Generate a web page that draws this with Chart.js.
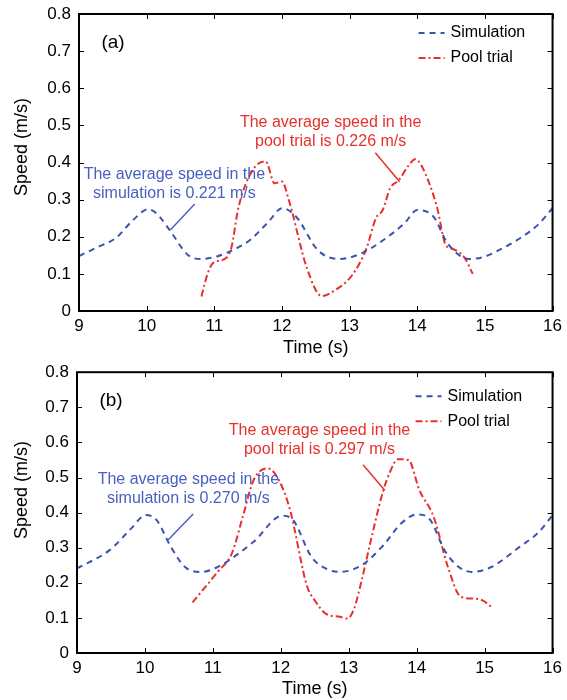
<!DOCTYPE html>
<html lang="en">
<head>
<meta charset="UTF-8">
<title>Swimming speed: simulation vs pool trial</title>
<script src="https://cdn.jsdelivr.net/npm/chart.js"></script>
<style>
  body { margin: 0; background: #fff; }
  canvas { display: block; }
</style>
</head>
<body>
<canvas id="chartA" width="567" height="362"></canvas>
<canvas id="chartB" width="567" height="338"></canvas>
<script>
// ---- panel (a) ----
const simTimeA = [9, 9.25, 9.54, 9.8, 10.02, 10.15, 10.34, 10.61, 10.8, 11.04, 11.25, 11.52, 11.8, 12.0, 12.21, 12.53, 12.85, 13.17, 13.49, 13.81, 14.0, 14.24, 14.45, 14.77, 14.99, 15.25, 15.52, 15.8, 16];
const simSpeedA = [0.148, 0.17, 0.196, 0.245, 0.274, 0.262, 0.218, 0.151, 0.140, 0.147, 0.162, 0.19, 0.24, 0.277, 0.254, 0.164, 0.14, 0.155, 0.19, 0.236, 0.272, 0.254, 0.182, 0.14, 0.146, 0.168, 0.196, 0.235, 0.277];
const poolTimeA = [10.81, 10.9, 10.98, 11.17, 11.25, 11.36, 11.57, 11.76, 11.89, 12.0, 12.1, 12.37, 12.59, 12.75, 13.04, 13.25, 13.39, 13.49, 13.6, 13.73, 13.86, 13.97, 14.07, 14.29, 14.42, 14.5, 14.69, 14.82];
const poolSpeedA = [0.039, 0.10, 0.129, 0.142, 0.169, 0.281, 0.38, 0.403, 0.344, 0.349, 0.30, 0.115, 0.04, 0.052, 0.097, 0.169, 0.25, 0.272, 0.331, 0.353, 0.389, 0.409, 0.389, 0.281, 0.178, 0.169, 0.146, 0.10];

// ---- panel (b) ----
const simTimeB = [9, 9.48, 9.8, 10.01, 10.17, 10.38, 10.59, 10.83, 11.07, 11.6, 12.02, 12.18, 12.45, 12.66, 12.87, 13.19, 13.51, 13.77, 14.01, 14.2, 14.41, 14.62, 14.81, 15.1, 15.52, 15.8, 16];
const simSpeedB = [0.241, 0.293, 0.355, 0.393, 0.379, 0.303, 0.245, 0.231, 0.245, 0.317, 0.391, 0.379, 0.274, 0.241, 0.231, 0.25, 0.307, 0.369, 0.395, 0.379, 0.293, 0.245, 0.231, 0.245, 0.303, 0.345, 0.393];
const poolTimeB = [10.70, 11.07, 11.28, 11.44, 11.6, 11.81, 11.97, 12.13, 12.39, 12.5, 12.66, 12.87, 12.98, 13.08, 13.19, 13.35, 13.51, 13.61, 13.72, 13.88, 14.04, 14.25, 14.46, 14.65, 14.83, 14.97, 15.1];
const poolSpeedB = [0.144, 0.231, 0.284, 0.388, 0.493, 0.526, 0.493, 0.412, 0.188, 0.15, 0.112, 0.103, 0.098, 0.127, 0.207, 0.341, 0.464, 0.517, 0.552, 0.55, 0.464, 0.388, 0.245, 0.16, 0.155, 0.15, 0.131];

const seriesNames = ['Simulation', 'Pool trial'];
const FONT = 'Liberation Sans, Arial, sans-serif';
const BLUE = '#3b53ad';
const RED = '#e8302a';

function points(xs, ys) {
    return xs.map((t, i) => ({ x: t, y: ys[i] }));
}

// frame, inward ticks, legend, panel tag, y title and the callout notes
const decorations = {
    id: 'decorations',
    afterDraw(chart, args, opts) {
        const { ctx, chartArea: a, scales: { x, y } } = chart;
        ctx.save();

        ctx.strokeStyle = '#000';
        ctx.lineWidth = 1;
        ctx.beginPath();
        x.ticks.forEach(t => {
            const px = Math.round(x.getPixelForValue(t.value)) + 0.5;
            ctx.moveTo(px, a.bottom); ctx.lineTo(px, a.bottom - 5);
            ctx.moveTo(px, a.top); ctx.lineTo(px, a.top + 5);
        });
        y.ticks.forEach(t => {
            const py = Math.round(y.getPixelForValue(t.value)) + 0.5;
            ctx.moveTo(a.left, py); ctx.lineTo(a.left + 5, py);
            ctx.moveTo(a.right, py); ctx.lineTo(a.right - 5, py);
        });
        ctx.stroke();
        ctx.lineWidth = 2;
        ctx.strokeRect(a.left, a.top, a.right - a.left, a.bottom - a.top);

        // y axis title
        ctx.fillStyle = '#000';
        ctx.font = '18px ' + FONT;
        ctx.textAlign = 'center';
        ctx.textBaseline = 'middle';
        ctx.save();
        ctx.translate(22, opts.yTitleAt);
        ctx.rotate(-Math.PI / 2);
        ctx.fillText('Speed (m/s)', 0, 0);
        ctx.restore();

        // panel tag
        ctx.font = '19px ' + FONT;
        ctx.fillText(opts.tag, a.left + 34, a.top + 29);

        // legend
        ctx.font = '16px ' + FONT;
        ctx.textAlign = 'left';
        chart.data.datasets.forEach((ds, i) => {
            const ly = a.top + opts.legendTop + i * 25;
            const lx = a.right - opts.legendRight;
            ctx.strokeStyle = ds.borderColor;
            ctx.lineWidth = 2;
            ctx.setLineDash(ds.borderDash);
            ctx.beginPath();
            ctx.moveTo(lx, ly); ctx.lineTo(lx + 26, ly);
            ctx.stroke();
            ctx.setLineDash([]);
            ctx.fillStyle = '#000';
            ctx.fillText(ds.label, lx + 32, ly);
        });

        // callouts
        ctx.textAlign = 'center';
        opts.notes.forEach(n => {
            ctx.fillStyle = n.color;
            ctx.font = '16px ' + FONT;
            const cx = x.getPixelForValue(n.at[0]);
            const cy = y.getPixelForValue(n.at[1]);
            n.lines.forEach((s, k) => ctx.fillText(s, cx, cy + k * 19));
            ctx.strokeStyle = n.color;
            ctx.lineWidth = 1.5;
            ctx.beginPath();
            ctx.moveTo(x.getPixelForValue(n.from[0]), y.getPixelForValue(n.from[1]));
            ctx.lineTo(x.getPixelForValue(n.to[0]), y.getPixelForValue(n.to[1]));
            ctx.stroke();
        });

        ctx.restore();
    }
};

function makeChart(id, sim, pool, cfg) {
    return new Chart(document.getElementById(id), {
        type: 'line',
        data: {
            datasets: [{
                label: seriesNames[0],
                data: sim,
                borderColor: BLUE,
                borderWidth: 2,
                borderDash: [6, 5],
                pointRadius: 0,
                cubicInterpolationMode: 'monotone',
                fill: false,
            }, {
                label: seriesNames[1],
                data: pool,
                borderColor: RED,
                borderWidth: 2,
                borderDash: [7, 3, 2, 3],
                pointRadius: 0,
                cubicInterpolationMode: 'monotone',
                fill: false,
            }],
        },
        options: {
            responsive: false,
            animation: false,
            layout: { padding: { top: cfg.padTop, right: 11, left: 0, bottom: 0 } },
            plugins: {
                legend: { display: false },
                tooltip: { enabled: false },
                decorations: cfg.decor,
            },
            scales: {
                x: {
                    type: 'linear',
                    min: 9,
                    max: 16,
                    grid: { display: false, drawTicks: false },
                    border: { display: false },
                    ticks: { stepSize: 1, padding: 5, color: '#000', font: { family: FONT, size: 17 } },
                    title: { display: true, text: 'Time (s)', color: '#000', font: { family: FONT, size: 18 }, padding: { top: 0, bottom: cfg.titlePad } },
                    afterFit(s) { s.height = cfg.xHeight; },
                },
                y: {
                    min: 0,
                    max: 0.8,
                    // invisible tick marks give the label gap without padding the top of the area
                    grid: { display: true, drawOnChartArea: false, drawTicks: true, tickLength: 8, color: 'rgba(0,0,0,0)' },
                    border: { display: false },
                    ticks: {
                        stepSize: 0.1,
                        padding: 0,
                        color: '#000',
                        font: { family: FONT, size: 17 },
                        callback: v => (v === 0 ? '0' : v.toFixed(1)),
                    },
                    afterFit(s) { s.width = cfg.yWidth; },
                },
            },
        },
        plugins: [decorations],
    });
}

makeChart('chartA', points(simTimeA, simSpeedA), points(poolTimeA, poolSpeedA), {
    padTop: 14, xHeight: 51, yWidth: 79, titlePad: 3,
    decor: {
        tag: '(a)', yTitleAt: 147, legendTop: 19, legendRight: 134,
        notes: [
            { color: '#4960bf', lines: ['The average speed in the', 'simulation is 0.221 m/s'], at: [10.41, 0.367], from: [10.71, 0.288], to: [10.35, 0.218] },
            { color: RED, lines: ['The average speed in the', 'pool trial is 0.226 m/s'], at: [12.72, 0.507], from: [13.38, 0.426], to: [13.74, 0.348] },
        ],
    },
});

makeChart('chartB', points(simTimeB, simSpeedB), points(poolTimeB, poolSpeedB), {
    padTop: 10, xHeight: 47, yWidth: 77, titlePad: 0,
    decor: {
        tag: '(b)', yTitleAt: 128, legendTop: 24, legendRight: 137,
        notes: [
            { color: '#4960bf', lines: ['The average speed in the', 'simulation is 0.270 m/s'], at: [10.64, 0.493], from: [10.71, 0.396], to: [10.34, 0.322] },
            { color: RED, lines: ['The average speed in the', 'pool trial is 0.297 m/s'], at: [12.57, 0.633], from: [13.21, 0.536], to: [13.53, 0.464] },
        ],
    },
});
</script>
</body>
</html>
